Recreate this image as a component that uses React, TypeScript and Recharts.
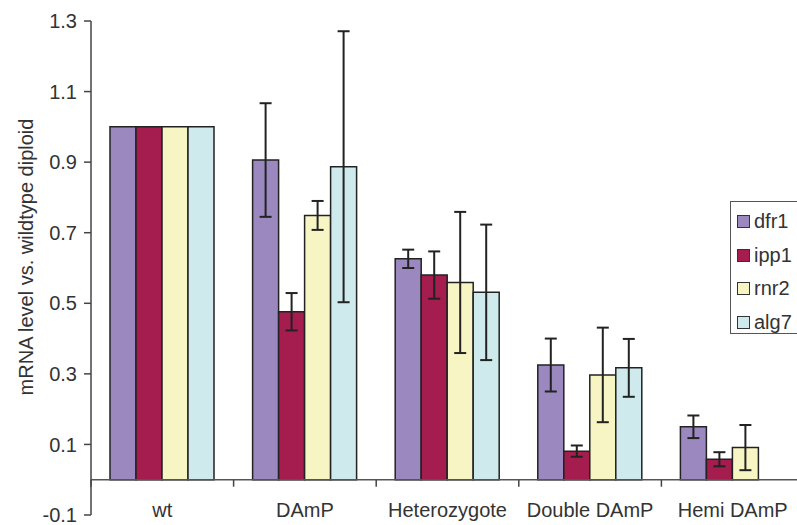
import React from 'react';
import { BarChart, Bar, XAxis, YAxis, ErrorBar, ReferenceLine, Legend } from 'recharts';

const categories = ['wt', 'DAmP', 'Heterozygote', 'Double DAmP', 'Hemi DAmP'];
const seriesNames = ['dfr1', 'ipp1', 'rnr2', 'alg7'];
const dfr1 = [1.0, 0.906, 0.626, 0.325, 0.15];
const ipp1 = [1.0, 0.476, 0.58, 0.081, 0.058];
const rnr2 = [1.0, 0.749, 0.559, 0.297, 0.091];
const alg7 = [1.0, 0.887, 0.531, 0.317, null];
const dfr1Err = [null, 0.161, 0.026, 0.075, 0.032];
const ipp1Err = [null, 0.053, 0.067, 0.016, 0.02];
const rnr2Err = [null, 0.041, 0.2, 0.134, 0.064];
const alg7Err = [null, 0.384, 0.192, 0.082, null];
const yTicks = [-0.1, 0.1, 0.3, 0.5, 0.7, 0.9, 1.1, 1.3];
const yDomain = [-0.1, 1.3];

const colors = ['#9B88BF', '#A51C4E', '#F8F5C4', '#CEEAEC'];

const data = categories.map((c, i) => ({
  name: c,
  dfr1: dfr1[i],
  ipp1: ipp1[i],
  rnr2: rnr2[i],
  alg7: alg7[i],
  dfr1Err: dfr1Err[i] ?? undefined,
  ipp1Err: ipp1Err[i] ?? undefined,
  rnr2Err: rnr2Err[i] ?? undefined,
  alg7Err: alg7Err[i] ?? undefined,
}));

const CHART_W = 804;
const CHART_H = 525;
const X_AXIS_H = 1;
const MARGIN = { top: 21, right: 0, bottom: 9, left: 0 };
const Y_AXIS_W = 91;
const PLOT_W = CHART_W - MARGIN.left - MARGIN.right - Y_AXIS_W;
const PLOT_H = CHART_H - MARGIN.top - MARGIN.bottom - X_AXIS_H;
const BAND = PLOT_W / categories.length;
const ZERO_Y = MARGIN.top + (yDomain[1] / (yDomain[1] - yDomain[0])) * PLOT_H;
const FONT = '"Liberation Sans", Arial, sans-serif';

const CatTick = (props: any) => {
  const { x, payload } = props;
  const left = x - BAND / 2;
  return (
    <g>
      <line x1={left} x2={left} y1={ZERO_Y} y2={ZERO_Y + 7} stroke="#444" strokeWidth={1.5} />
      <text x={x} y={ZERO_Y + 37} textAnchor="middle" fontSize={20} fill="#333" fontFamily={FONT}>
        {payload.value}
      </text>
    </g>
  );
};

const YLabel = () => {
  const cx = 26;
  const cy = 257;
  return (
    <text
      x={cx}
      y={cy}
      transform={`rotate(-90, ${cx}, ${cy})`}
      textAnchor="middle"
      dominantBaseline="central"
      fontSize={20}
      fill="#333"
      fontFamily={FONT}
    >
      mRNA level vs. wildtype diploid
    </text>
  );
};

const LegendBox = () => (
  <div
    style={{
      border: '1.5px solid #555',
      background: '#fff',
      width: 90,
      height: 133,
      boxSizing: 'border-box',
      padding: '3px 0 0 6px',
      fontFamily: FONT,
    }}
  >
    {seriesNames.map((n, i) => (
      <div key={n} style={{ display: 'flex', alignItems: 'center', height: 33.5 }}>
        <span
          style={{
            display: 'inline-block',
            width: 11,
            height: 11,
            background: colors[i],
            border: '1.5px solid #333',
            marginRight: 4,
          }}
        />
        <span style={{ fontSize: 20, color: '#333' }}>{n}</span>
      </div>
    ))}
  </div>
);

export default function App() {
  return (
    <div
      style={{
        position: 'absolute',
        left: 0,
        top: 0,
        width: 797,
        height: 525,
        overflow: 'hidden',
        background: '#fff',
      }}
    >
      <BarChart
        width={CHART_W}
        height={CHART_H}
        data={data}
        margin={MARGIN}
        barGap={0}
        style={{ fontFamily: FONT }}
      >
        <YAxis
          width={Y_AXIS_W}
          domain={yDomain}
          ticks={yTicks}
          type="number"
          interval={0}
          allowDataOverflow
          tickFormatter={(v: number) => v.toFixed(1)}
          tick={{ fontSize: 20, fill: '#333', fontFamily: FONT }}
          tickSize={7}
          tickMargin={7}
          axisLine={{ stroke: '#444', strokeWidth: 1.5 }}
          tickLine={{ stroke: '#444', strokeWidth: 1.5 }}
          label={<YLabel />}
        />
        <XAxis
          dataKey="name"
          height={X_AXIS_H}
          axisLine={false}
          tickLine={false}
          interval={0}
          tick={<CatTick />}
        />
        <ReferenceLine y={0} stroke="#555" strokeWidth={1.5} />
        <Legend
          layout="vertical"
          align="center"
          verticalAlign="middle"
          content={<LegendBox />}
          wrapperStyle={{ left: 730, top: 201, width: 90 }}
        />
        {seriesNames.map((n, i) => (
          <Bar
            key={n}
            dataKey={n}
            fill={colors[i]}
            stroke="#222"
            strokeWidth={1.5}
            barSize={26}
            isAnimationActive={false}
          >
            <ErrorBar
              dataKey={`${n}Err`}
              direction="y"
              width={6}
              stroke="#222"
              strokeWidth={2}
              isAnimationActive={false}
            />
          </Bar>
        ))}
      </BarChart>
    </div>
  );
}
